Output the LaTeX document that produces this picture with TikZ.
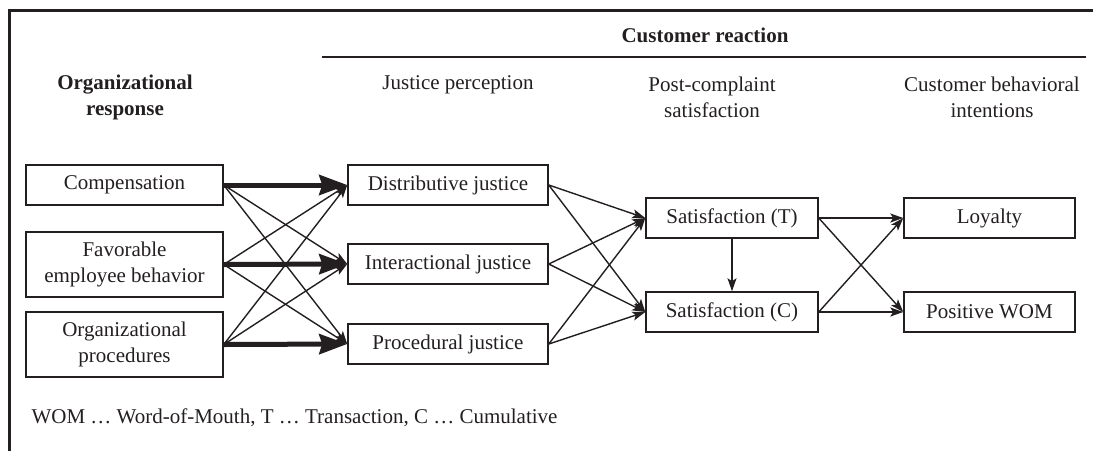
\documentclass[tikz,border=0pt]{standalone}
\usepackage{fontspec}
\setmainfont{Liberation Serif}
\usetikzlibrary{arrows.meta}
\definecolor{ink}{HTML}{231F20}
\begin{document}
\begin{tikzpicture}[x=1pt,y=-1pt,
  every node/.style={font=\fontsize{21}{26}\selectfont, text=ink},
  box/.style={draw=ink, line width=1.5pt, rectangle, inner sep=0pt, minimum height=40pt, align=center},
  tallbox/.style={box, minimum height=65pt},
  head/.style={align=center},
  thin/.style={draw=ink, line width=1.4pt, -{Stealth[length=13pt,width=9pt,inset=3pt]}},
  thick/.style={draw=ink, line width=5pt, -{Stealth[length=28pt,width=20pt,inset=3pt]}}
]
\useasboundingbox (0,0) rectangle (1093,451);
% frame
\draw[ink, line width=3pt] (1093,10) -- (9,10) -- (9,451);
\draw[ink, line width=1.5pt] (322,57) -- (1086,57);
% headers
\node[head, font=\fontsize{21}{26}\selectfont\bfseries] (h1) at (125,97) {Organizational\\response};
\node[head, font=\fontsize{21}{26}\selectfont\bfseries] (h0) at (705,35) {Customer reaction};
\node[head] (h2) at (458,85) {Justice perception};
\node[head] (h3) at (712,97) {Post-complaint\\satisfaction};
\node[head] (h4) at (992,97) {Customer behavioral\\intentions};
% boxes
\node[box, minimum width=197pt] (comp) at (124.5,185) {Compensation};
\node[tallbox, minimum width=197pt] (fav) at (124.5,264.5) {Favorable\\employee behavior};
\node[tallbox, minimum width=197pt] (org) at (124.5,344.5) {Organizational\\procedures};
\node[box, minimum width=200pt] (dist) at (448,185) {Distributive justice};
\node[box, minimum width=200pt] (inter) at (448,264) {Interactional justice};
\node[box, minimum width=200pt] (proc) at (448,344) {Procedural justice};
\node[box, minimum width=172pt] (satt) at (732,218) {Satisfaction (T)};
\node[box, minimum width=172pt] (satc) at (732,312) {Satisfaction (C)};
\node[box, minimum width=171pt] (loy) at (989.5,218) {Loyalty};
\node[box, minimum width=171pt] (wom) at (989.5,312) {Positive WOM};
% footer
\node[anchor=west] (foot) at (28,418) {WOM … Word-of-Mouth, T … Transaction, C … Cumulative};
% arrows: response -> justice
\draw[thick] (comp.east) -- (dist.west);
\draw[thick] (fav.east) -- (inter.west);
\draw[thick] (org.east) -- (proc.west);
\draw[thin] (comp.east) -- (inter.west);
\draw[thin] (comp.east) -- (proc.west);
\draw[thin] (fav.east) -- (dist.west);
\draw[thin] (fav.east) -- (proc.west);
\draw[thin] (org.east) -- (dist.west);
\draw[thin] (org.east) -- (inter.west);
% justice -> satisfaction
\foreach \j in {dist,inter,proc}{
  \draw[thin] (\j.east) -- (satt.west);
  \draw[thin] (\j.east) -- (satc.west);
}
\draw[thin] (satt.south) -- (satc.north);
% satisfaction -> intentions
\foreach \s in {satt,satc}{
  \draw[thin] (\s.east) -- (loy.west);
  \draw[thin] (\s.east) -- (wom.west);
}
\end{tikzpicture}
\end{document}
